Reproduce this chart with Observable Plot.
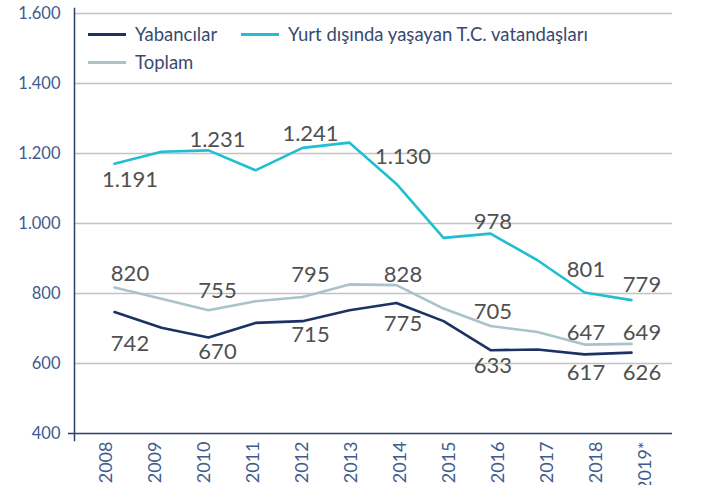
<!DOCTYPE html>
<html>
<head>
<meta charset="utf-8">
<script src="https://cdn.jsdelivr.net/npm/d3@7"></script>
<script src="https://cdn.jsdelivr.net/npm/@observablehq/plot@0.6"></script>
<style>
  html, body { margin: 0; padding: 0; background: #fff; }
  #wrap { position: relative; width: 714px; height: 485px; overflow: hidden; font-family: Lato, "Open Sans", sans-serif; }
  #wrap svg { position: absolute; left: 0; top: 0; }
  .legend { position: absolute; font-family: Lato, sans-serif; font-size: 18.5px; color: #3a4a6e; display: flex; align-items: center; white-space: nowrap; }
  .legend .sw { display: inline-block; width: 38px; height: 3px; margin-right: 9px; }
</style>
</head>
<body>
<div id="wrap"></div>
<script>
// ---- data ----
const years = ["2008","2009","2010","2011","2012","2013","2014","2015","2016","2017","2018","2019*"];
const yabancilar = [747, 702, 674, 716, 721, 752, 773, 721, 638, 640, 626, 631];
const yurtDisi   = [1171, 1205, 1209, 1152, 1216, 1231, 1113, 959, 971, 895, 803, 781];
const toplam     = [817, 785, 752, 778, 790, 826, 824, 757, 707, 690, 654, 656];
const yTicks = [400, 600, 800, 1000, 1200, 1400, 1600];
const seriesNames = ["Yabancılar", "Yurt dışında yaşayan T.C. vatandaşları", "Toplam"];

// data labels
const labelYears    = ["2008","2010","2012","2014","2016","2018","2019*"];
const yabanciLabels = ["742","670","715","775","633","617","626"];
const yurtLabels    = ["1.191","1.231","1.241","1.130","978","801","779"];
const toplamLabels  = ["820","755","795","828","705","647","649"];

// label placement (pixels)
const labelDx   = [15.5, 9, 8, 6.5, 2.4, 1.5, 10.5];
const yabanciDy = [32.4, 14, 14, 21, 16, 19, 20.6];
const yurtDy    = [16, -10.7, -14, -26.7, -11.2, -22.6, -15];
const toplamDy  = [-14, -19, -22, -10, -14, -11.4, -10.7];

// ---- styles ----
const colors = {"Yabancılar": "#1d3264", "Yurt dışında yaşayan T.C. vatandaşları": "#20bed0", "Toplam": "#a9c4c8"};
const axisColor = "#2b3f6b";
const tickColor = "#3e5b8e";
const labelColor = "#505050";

const trLocale = d3.formatLocale({decimal: ",", thousands: ".", grouping: [3], currency: ["", ""]});
const fmt = trLocale.format(",");

function rows(name, values) { return years.map((y, i) => ({year: y, value: values[i], series: name})); }
const lineData = [
  ...rows(seriesNames[2], toplam),
  ...rows(seriesNames[0], yabancilar),
  ...rows(seriesNames[1], yurtDisi)
];

function labelMarks(values, texts, dys) {
  return labelYears.map((yr, i) => {
    const idx = years.indexOf(yr);
    return Plot.text([{year: yr, value: values[idx], text: texts[i]}], {
      x: "year", y: "value", text: "text",
      dx: labelDx[i], dy: dys[i],
      fontSize: 22, fill: labelColor, fontWeight: 400,
      fontFamily: "Lato, sans-serif", textAnchor: "middle"
    });
  });
}

const W = 714, H = 485;
const main = Plot.plot({
  width: W, height: H,
  marginLeft: 74, marginRight: 42, marginTop: 13, marginBottom: 52,
  style: {fontFamily: "Lato, sans-serif", background: "transparent"},
  x: {type: "point", domain: years, insetLeft: 15, insetRight: 17, axis: null},
  y: {domain: [400, 1600], axis: null},
  marks: [
    Plot.ruleY(yTicks.filter(d => d > 400), {stroke: "#c3c3c3", strokeWidth: 1.5}),
    Plot.axisY(yTicks, {tickSize: 0, tickPadding: 14, tickFormat: fmt, fontSize: 16.5, fill: tickColor, fontFamily: "Lato, sans-serif", label: null}),
    Plot.lineY(lineData, {x: "year", y: "value", z: "series", stroke: d => colors[d.series], strokeWidth: 2.6, curve: "linear"}),
    ...labelMarks(yurtDisi, yurtLabels, yurtDy),
    ...labelMarks(toplam, toplamLabels, toplamDy),
    ...labelMarks(yabancilar, yabanciLabels, yabanciDy),
    Plot.ruleY([400], {stroke: axisColor, strokeWidth: 1.5, insetLeft: -6}),
    Plot.frame({anchor: "left", stroke: axisColor, strokeWidth: 1.5, insetTop: -5, insetBottom: -7})
  ]
});

const xaxis = Plot.plot({
  width: W, height: H,
  marginLeft: 75, marginRight: 37, marginTop: 13, marginBottom: 52,
  style: {fontFamily: "Lato, sans-serif", background: "transparent"},
  x: {type: "band", domain: years},
  y: {domain: [400, 1600], axis: null},
  marks: [
    Plot.axisX({tickRotate: -90, tickSize: 0, tickPadding: 8, fontSize: 18, fill: tickColor, fontFamily: "Lato, sans-serif", label: null})
  ]
});

const wrap = document.getElementById("wrap");
wrap.appendChild(main);
wrap.appendChild(xaxis);

// legend
const legendItems = [
  {name: seriesNames[0], left: 88, top: 34},
  {name: seriesNames[1], left: 241, top: 34},
  {name: seriesNames[2], left: 88, top: 62}
];
legendItems.forEach(it => {
  const el = document.createElement("div");
  el.className = "legend";
  el.style.left = it.left + "px";
  el.style.top = (it.top - 12) + "px";
  el.style.height = "24px";
  const sw = document.createElement("span");
  sw.className = "sw";
  sw.style.background = colors[it.name];
  el.appendChild(sw);
  el.appendChild(document.createTextNode(it.name));
  wrap.appendChild(el);
});
</script>
</body>
</html>
